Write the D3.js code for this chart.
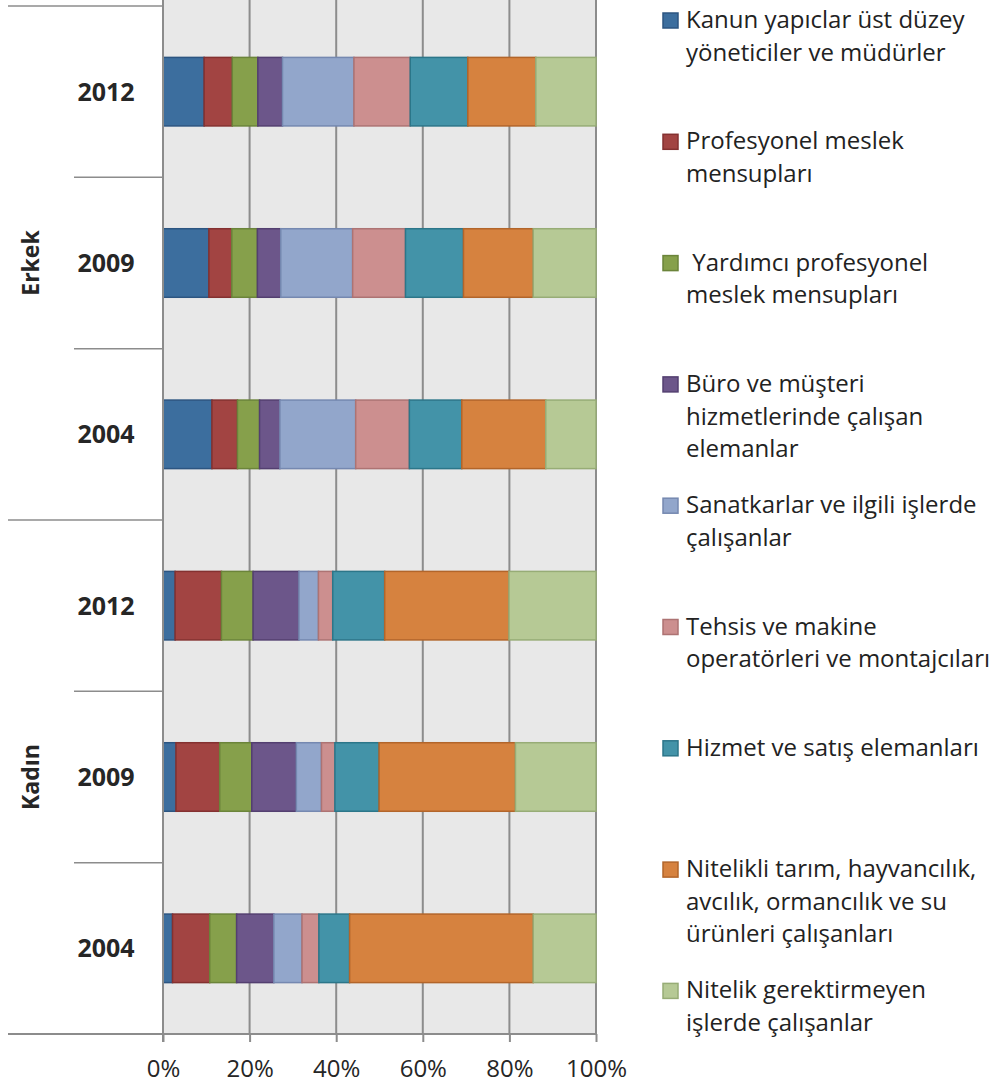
<!DOCTYPE html>
<html>
<head>
<meta charset="utf-8">
<script src="https://cdn.jsdelivr.net/npm/d3@7"></script>
<style>
  body { margin: 0; background: #fff; }
  svg { display: block; }
</style>
</head>
<body>
<div id="chart"></div>
<script>
// rows from top to bottom
var years = ["2012", "2009", "2004", "2012", "2009", "2004"];
var rowGender = ["Erkek", "Erkek", "Erkek", "Kadın", "Kadın", "Kadın"];
var genders = ["Erkek", "Kadın"];

// share (%) of each occupation group per row
var kanun      = [9.5, 10.6, 11.3, 2.8, 3.0, 2.2];
var profesyonel = [6.5, 5.3, 5.9, 10.7, 10.1, 8.6];
var yardimci   = [5.9, 5.9, 5.1, 7.3, 7.4, 6.2];
var buro       = [5.7, 5.4, 4.7, 10.6, 10.3, 8.6];
var sanatkar   = [16.5, 16.6, 17.5, 4.5, 5.8, 6.5];
var tesis      = [13.0, 12.2, 12.4, 3.3, 3.1, 3.9];
var hizmet     = [13.3, 13.4, 12.1, 12.0, 10.2, 7.1];
var tarim      = [15.7, 16.1, 19.4, 28.7, 31.5, 42.4];
var nitelikYok = [13.9, 14.5, 11.6, 20.1, 18.6, 14.5];

var seriesValues = [kanun, profesyonel, yardimci, buro, sanatkar, tesis, hizmet, tarim, nitelikYok];

var legendLabels = [
  ["Kanun yapıclar üst düzey", "yöneticiler ve müdürler"],
  ["Profesyonel meslek", "mensupları"],
  [" Yardımcı profesyonel", "meslek mensupları"],
  ["Büro ve müşteri", "hizmetlerinde çalışan", "elemanlar"],
  ["Sanatkarlar ve ilgili işlerde", "çalışanlar"],
  ["Tehsis ve makine", "operatörleri ve montajcıları"],
  ["Hizmet ve satış elemanları"],
  ["Nitelikli tarım, hayvancılık,", "avcılık, ormancılık ve su", "ürünleri çalışanları"],
  ["Nitelik gerektirmeyen", "işlerde çalışanlar"]
];

var xTicks = [0, 20, 40, 60, 80, 100];

var fills   = ["#3c6e9e", "#a24442", "#86a04b", "#6c568a", "#92a6cb", "#cc8f8f", "#4393a8", "#d6823f", "#b6c995"];
var strokes = ["#2c5581", "#843130", "#6b843a", "#533f70", "#7588b0", "#ad7373", "#2c7689", "#b2652a", "#97ac76"];

var svgWidth = 1001, svgHeight = 1084;
var plotLeft = 163, plotRight = 596, plotTop = 6, plotBottom = 1034;

var svg = d3.select("#chart").append("svg")
    .attr("width", svgWidth)
    .attr("height", svgHeight);

var keys = seriesValues.map(function(s, i) { return "s" + i; });
var table = years.map(function(y, r) {
  var row = { row: r };
  keys.forEach(function(k, i) { row[k] = seriesValues[i][r]; });
  return row;
});

var stacked = d3.stack().keys(keys)(table);

var x = d3.scaleLinear().domain([0, 100]).range([plotLeft, plotRight]);
var y = d3.scaleBand()
    .domain(d3.range(years.length))
    .range([plotTop, plotBottom])
    .paddingInner(0.6)
    .paddingOuter(0.3);

// plot background
svg.append("rect")
    .attr("x", plotLeft).attr("y", 0)
    .attr("width", plotRight - plotLeft).attr("height", plotBottom)
    .attr("fill", "#e8e8e8");

// vertical gridlines
svg.append("g").selectAll("line")
    .data(xTicks)
    .enter().append("line")
    .attr("x1", d => x(d)).attr("x2", d => x(d))
    .attr("y1", 0).attr("y2", plotBottom)
    .attr("stroke", "#8c8c8c")
    .attr("stroke-width", 2);

// bars
var layers = svg.append("g").selectAll("g")
    .data(stacked)
    .enter().append("g")
    .attr("fill", (d, i) => fills[i])
    .attr("stroke", (d, i) => strokes[i]);

layers.selectAll("rect")
    .data(d => d)
    .enter().append("rect")
    .attr("x", d => x(d[0]))
    .attr("width", d => x(d[1]) - x(d[0]))
    .attr("y", d => y(d.data.row))
    .attr("height", y.bandwidth())
    .attr("stroke-width", 1.5);

// bottom axis
var bottomAxis = d3.axisBottom(x)
    .tickValues(xTicks)
    .tickFormat(d => d + "%")
    .tickSize(8)
    .tickSizeOuter(0);

var xAxisGroup = svg.append("g")
    .attr("transform", `translate(0, ${plotBottom})`)
    .call(bottomAxis);
xAxisGroup.select(".domain").remove();
xAxisGroup.selectAll(".tick line").attr("stroke", "#8c8c8c").attr("stroke-width", 2);
xAxisGroup.selectAll(".tick text")
    .attr("y", 43).attr("dy", null)
    .attr("font-family", "'Open Sans', sans-serif")
    .attr("font-size", "24px")
    .attr("fill", "#262626");

// axis lines
svg.append("line")
    .attr("x1", 8).attr("x2", plotRight)
    .attr("y1", plotBottom).attr("y2", plotBottom)
    .attr("stroke", "#8c8c8c").attr("stroke-width", 2);
svg.append("line")
    .attr("x1", plotLeft).attr("x2", plotLeft)
    .attr("y1", 0).attr("y2", plotBottom + 8)
    .attr("stroke", "#8c8c8c").attr("stroke-width", 2);

// category separators (year level and gender level)
var step = y.step();
var bounds = d3.range(years.length).map(r => y(r) - step * 0.3);
svg.append("g").selectAll("line")
    .data(bounds)
    .enter().append("line")
    .attr("x1", (d, i) => (i % 3 === 0 ? 8 : 74))
    .attr("x2", plotLeft)
    .attr("y1", d => d).attr("y2", d => d)
    .attr("stroke", "#8c8c8c")
    .attr("stroke-width", 1.5);

// year labels
svg.append("g").selectAll("text")
    .data(years)
    .enter().append("text")
    .attr("x", 106)
    .attr("y", (d, i) => y(i) + y.bandwidth() / 2 + 9)
    .attr("text-anchor", "middle")
    .attr("font-family", "'Open Sans', sans-serif")
    .attr("font-weight", "bold")
    .attr("font-size", "25px")
    .attr("fill", "#262626")
    .text(d => d);

// gender labels
svg.append("g").selectAll("text")
    .data(genders)
    .enter().append("text")
    .attr("transform", function(g) {
      var idx = d3.range(years.length).filter(r => rowGender[r] === g);
      var c = (y(idx[0]) + y(idx[idx.length - 1]) + y.bandwidth()) / 2;
      return `translate(39, ${c}) rotate(-90)`;
    })
    .attr("text-anchor", "middle")
    .attr("font-family", "'Open Sans', sans-serif")
    .attr("font-weight", "bold")
    .attr("font-size", "23px")
    .attr("fill", "#262626")
    .text(d => d);

// legend
var legend = svg.append("g").selectAll("g")
    .data(legendLabels)
    .enter().append("g")
    .attr("transform", (d, i) => `translate(663, ${28 + i * 121.3})`);

legend.append("rect")
    .attr("x", 0).attr("y", -15)
    .attr("width", 15).attr("height", 15)
    .attr("fill", (d, i) => fills[i])
    .attr("stroke", (d, i) => strokes[i])
    .attr("stroke-width", 1.5);

legend.append("text")
    .attr("font-family", "'Open Sans', sans-serif")
    .attr("font-size", "24px")
    .attr("fill", "#222")
    .style("white-space", "pre")
    .selectAll("tspan")
    .data(d => d)
    .enter().append("tspan")
    .attr("x", 23)
    .attr("y", (d, i) => i * 32.7)
    .text(d => d);
</script>
</body>
</html>
